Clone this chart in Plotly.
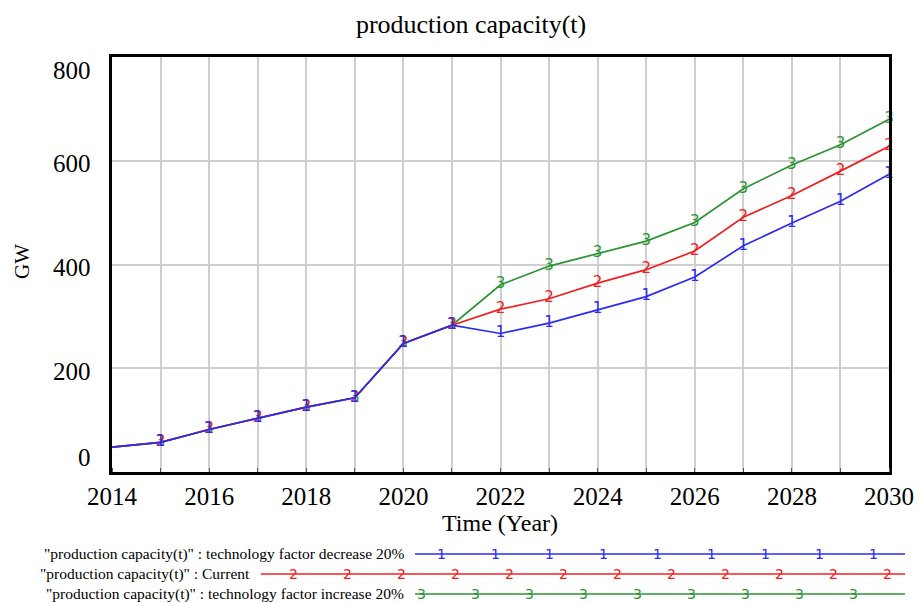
import plotly.graph_objects as go

# ---- data ----
years = list(range(2014, 2031))
decrease_20 = [48, 57, 82, 103, 125, 143, 248, 283, 267, 287, 313, 338, 376, 436, 480, 522, 574]
current = [48, 57, 82, 103, 125, 143, 248, 283, 314, 334, 364, 390, 426, 491, 533, 580, 628]
increase_20 = [48, 57, 82, 103, 125, 143, 248, 283, 361, 397, 421, 445, 481, 546, 592, 631, 680]

series_names = [
    '"production capacity(t)" : technology factor decrease 20%',
    '"production capacity(t)" : Current',
    '"production capacity(t)" : technology factor increase 20%',
]
x_ticks = [2014, 2016, 2018, 2020, 2022, 2024, 2026, 2028, 2030]
y_ticks = [0, 200, 400, 600, 800]

BLUE = "#2b2bf5"
RED = "#f02020"
GREEN = "#2a9432"
FONT = "Liberation Serif"

W, H = 920, 603
L, R, T, B = 112, 31, 57, 131
pw, ph = W - L - R, H - T - B


def px_x(px):
    return (px - L) / pw


def px_y(py):
    return (H - B - py) / ph


fig = go.Figure()

# lines with numeric tag markers at each year
for vals, col, tag in [(increase_20, GREEN, "3"), (current, RED, "2"), (decrease_20, BLUE, "1")]:
    fig.add_trace(go.Scatter(
        x=years, y=vals, mode="lines+text",
        text=[""] + [tag] * (len(years) - 1),
        textposition="middle center",
        textfont=dict(family="DejaVu Sans", size=15, color=col),
        line=dict(color=col, width=1.7),
        showlegend=False, hoverinfo="skip", cliponaxis=False,
    ))

# custom legend: label + line with tag digits
legend_rows = [
    (series_names[0], BLUE, "1", 554, 412, 441),
    (series_names[1], RED, "2", 574, 258, 293),
    (series_names[2], GREEN, "3", 594, 412, 421),
]
shapes = []
annotations = []
for name, col, tag, py, x0, first in legend_rows:
    annotations.append(dict(
        text=name, xref="paper", yref="paper", x=px_x(x0 - 6), y=px_y(py),
        xanchor="right", yanchor="middle", showarrow=False,
        font=dict(family=FONT, size=15.5, color="black"),
    ))
    shapes.append(dict(
        type="line", xref="paper", yref="paper",
        x0=px_x(x0 + 3), x1=px_x(905), y0=px_y(py), y1=px_y(py),
        line=dict(color=col, width=1.7),
    ))
    px = first
    while px <= 906:
        annotations.append(dict(
            text=tag, xref="paper", yref="paper", x=px_x(px), y=px_y(py),
            xanchor="center", yanchor="middle", showarrow=False,
            font=dict(family="DejaVu Sans", size=14, color=col),
        ))
        px += 54

# y tick labels (end labels sit just inside the frame)
y_label_shift = {0: 15, 800: -13}
for v in y_ticks:
    annotations.append(dict(
        text=str(v), xref="paper", yref="y", x=0, y=v,
        xanchor="right", yanchor="middle", xshift=-19,
        yshift=y_label_shift.get(v, -3), showarrow=False,
        font=dict(family=FONT, size=25, color="black"),
    ))

# axis titles
annotations.append(dict(
    text="Time (Year)", xref="paper", yref="paper", x=px_x(500), y=px_y(523),
    xanchor="center", yanchor="middle", showarrow=False,
    font=dict(family=FONT, size=24, color="black"),
))
annotations.append(dict(
    text="GW", xref="paper", yref="paper", x=px_x(22), y=px_y(262),
    xanchor="center", yanchor="middle", showarrow=False, textangle=-90,
    font=dict(family=FONT, size=21, color="black"),
))

fig.update_layout(
    width=W, height=H,
    margin=dict(l=L, r=R, t=T, b=B, autoexpand=False),
    paper_bgcolor="white", plot_bgcolor="white",
    title=dict(text="production capacity(t)", x=0.512, xref="container",
               y=1 - 24 / H, yref="container", xanchor="center", yanchor="middle",
               font=dict(family=FONT, size=26, color="black")),
    shapes=shapes,
    annotations=annotations,
    xaxis=dict(
        range=[2014, 2030], tickvals=x_ticks, ticktext=[str(v) for v in x_ticks],
        showgrid=True, gridcolor="#cfcfcf", gridwidth=1.5,
        minor=dict(dtick=1, showgrid=True, gridcolor="#cfcfcf", gridwidth=1.5,
                   ticks="inside", ticklen=4, tickcolor="#555"),
        ticks="", showline=True, linecolor="black", linewidth=3, mirror=True,
        tickfont=dict(family=FONT, size=25, color="black"), zeroline=False,
        ticklabelstandoff=0, automargin=False,
    ),
    yaxis=dict(
        range=[0, 800], tickvals=y_ticks, showticklabels=False,
        showgrid=True, gridcolor="#cfcfcf", gridwidth=1.5,
        ticks="", showline=True, linecolor="black", linewidth=3, mirror=True,
        zeroline=False, automargin=False,
    ),
)

fig.write_html("out.html")
